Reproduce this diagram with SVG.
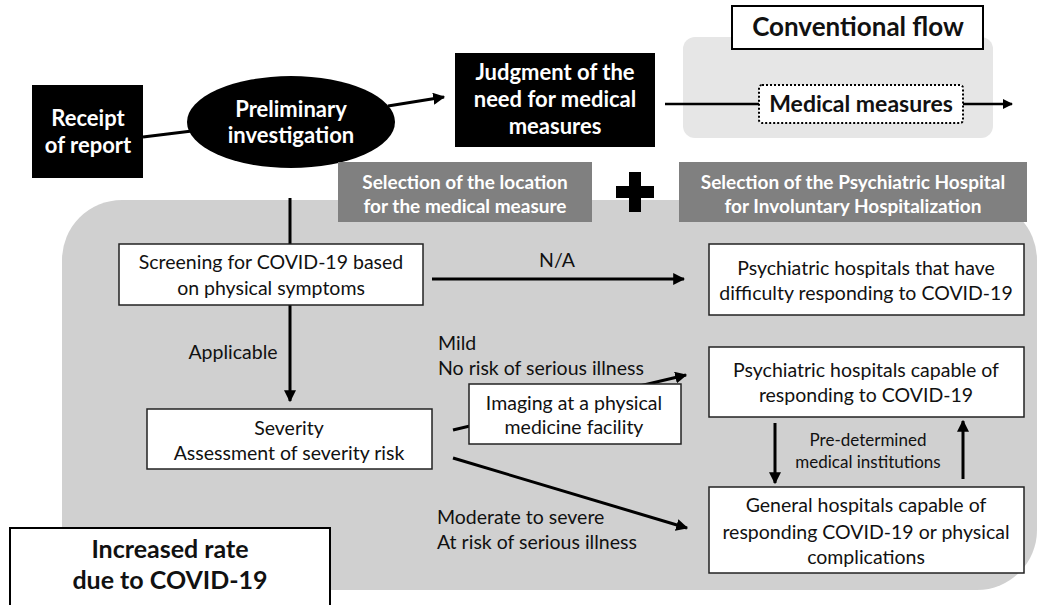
<svg xmlns="http://www.w3.org/2000/svg" width="1043" height="605" viewBox="0 0 1043 605">
<defs>
<style>
.t{font-family:Lato,"Open Sans","Liberation Sans",sans-serif;font-size:19.5px;fill:#111;text-anchor:middle}
.b{font-weight:bold}
.w{fill:#fff}
.s{text-anchor:start}
.box{fill:#fff;stroke:#222;stroke-width:1.5}
.blk{fill:#000}
.lbl{fill:#808080}
.ln{stroke:#000;stroke-width:3;fill:none}
</style>
<marker id="ah" viewBox="0 0 10 10" refX="9" refY="5" markerWidth="4" markerHeight="4" orient="auto" markerUnits="strokeWidth">
<path d="M0,0 L10,5 L0,10 z" fill="#000"/>
</marker>
</defs>
<rect width="1043" height="605" fill="#fff"/>
<g id="background">
<rect x="62" y="200" width="975" height="390" rx="60" fill="#d0d0d0"/>
<rect x="683" y="37" width="310" height="101" rx="12" fill="#e6e6e6"/>
</g>
<g id="connectors">
<line class="ln" x1="143" y1="137" x2="192" y2="131"/>
<line class="ln" x1="388" y1="106" x2="444" y2="97" marker-end="url(#ah)"/>
<line class="ln" x1="665" y1="104" x2="759" y2="104" style="stroke-width:2.5"/>
<line class="ln" x1="963" y1="104" x2="1012" y2="104" style="stroke-width:2.5" marker-end="url(#ah)"/>
<line class="ln" x1="290" y1="198" x2="290" y2="244"/>
<line class="ln" x1="290" y1="305" x2="290" y2="401" marker-end="url(#ah)"/>
<line class="ln" x1="432" y1="279" x2="684" y2="279" marker-end="url(#ah)"/>
<line class="ln" x1="453" y1="430" x2="686" y2="375" marker-end="url(#ah)"/>
<line class="ln" x1="453" y1="458" x2="687" y2="528" marker-end="url(#ah)"/>
<line class="ln" x1="775" y1="423" x2="775" y2="483" marker-end="url(#ah)"/>
<line class="ln" x1="963" y1="479" x2="963" y2="421" marker-end="url(#ah)"/>
</g>
<g id="receipt">
<rect class="blk" x="32" y="85" width="111" height="93"/>
<text class="t b w" x="88" y="126" style="font-size:22px">Receipt</text>
<text class="t b w" x="88" y="153" style="font-size:22px">of report</text>
</g>
<g id="preliminary">
<ellipse class="blk" cx="291" cy="122" rx="104" ry="46"/>
<text class="t b w" x="291" y="117" style="font-size:22px">Preliminary</text>
<text class="t b w" x="291" y="143" style="font-size:22px">investigation</text>
</g>
<g id="judgment">
<rect class="blk" x="455" y="53" width="200" height="94"/>
<text class="t b w" x="555" y="80" style="font-size:22px">Judgment of the</text>
<text class="t b w" x="555" y="107" style="font-size:22px">need for medical</text>
<text class="t b w" x="555" y="134" style="font-size:22px">measures</text>
</g>
<g id="conventional">
<rect x="732" y="6" width="251" height="43" fill="#fff" stroke="#000" stroke-width="2"/>
<text class="t b" x="858" y="36" style="font-size:26px">Conventional flow</text>
</g>
<g id="medical-measures">
<rect x="759" y="85" width="204" height="38" rx="3" fill="#fff" stroke="#000" stroke-width="2" stroke-dasharray="2 2"/>
<text class="t b" x="861" y="112" style="font-size:23px">Medical measures</text>
</g>
<g id="sel-location">
<rect class="lbl" x="338" y="162" width="254" height="60"/>
<text class="t b w" x="465" y="189" style="font-size:19px">Selection of the location</text>
<text class="t b w" x="465" y="213" style="font-size:19px">for the medical measure</text>
</g>
<g id="plus">
<rect x="629" y="172" width="12" height="40" fill="#000"/>
<rect x="616" y="186" width="38" height="12" fill="#000"/>
</g>
<g id="sel-hospital">
<rect class="lbl" x="679" y="162" width="348" height="60"/>
<text class="t b w" x="853" y="189" style="font-size:19px">Selection of the Psychiatric Hospital</text>
<text class="t b w" x="853" y="213" style="font-size:19px">for Involuntary Hospitalization</text>
</g>
<g id="screening">
<rect class="box" x="119" y="244" width="304" height="61"/>
<text class="t" x="271" y="269">Screening for COVID-19 based</text>
<text class="t" x="271" y="295">on physical symptoms</text>
</g>
<g id="difficulty">
<rect class="box" x="709" y="244" width="315" height="71"/>
<text class="t" x="866" y="275">Psychiatric hospitals that have</text>
<text class="t" x="866" y="300">difficulty responding to COVID-19</text>
</g>
<g id="capable">
<rect class="box" x="709" y="347" width="315" height="70"/>
<text class="t" x="866" y="377">Psychiatric hospitals capable of</text>
<text class="t" x="866" y="402">responding to COVID-19</text>
</g>
<g id="severity">
<rect class="box" x="147" y="409" width="285" height="60"/>
<text class="t" x="289" y="435">Severity</text>
<text class="t" x="289" y="460">Assessment of severity risk</text>
</g>
<g id="imaging">
<rect class="box" x="469" y="384" width="212" height="60"/>
<text class="t" x="574" y="410">Imaging at a physical</text>
<text class="t" x="574" y="434">medicine facility</text>
</g>
<g id="general">
<rect class="box" x="709" y="487" width="315" height="86"/>
<text class="t" x="866" y="512">General hospitals capable of</text>
<text class="t" x="866" y="539">responding COVID-19 or physical</text>
<text class="t" x="866" y="564">complications</text>
</g>
<g id="increased">
<rect x="10" y="528" width="320" height="85" fill="#fff" stroke="#000" stroke-width="2"/>
<text class="t b" x="170" y="558" style="font-size:25px">Increased rate</text>
<text class="t b" x="170" y="589" style="font-size:25px">due to COVID-19</text>
</g>
<g id="labels">
<text class="t" x="557" y="267">N/A</text>
<text class="t" x="233" y="359">Applicable</text>
<text class="t s" x="438" y="350">Mild</text>
<text class="t s" x="438" y="375">No risk of serious illness</text>
<text class="t s" x="437" y="524">Moderate to severe</text>
<text class="t s" x="437" y="549">At risk of serious illness</text>
<text class="t" x="868" y="446" style="font-size:17px">Pre-determined</text>
<text class="t" x="868" y="468" style="font-size:17px">medical institutions</text>
</g>
</svg>
